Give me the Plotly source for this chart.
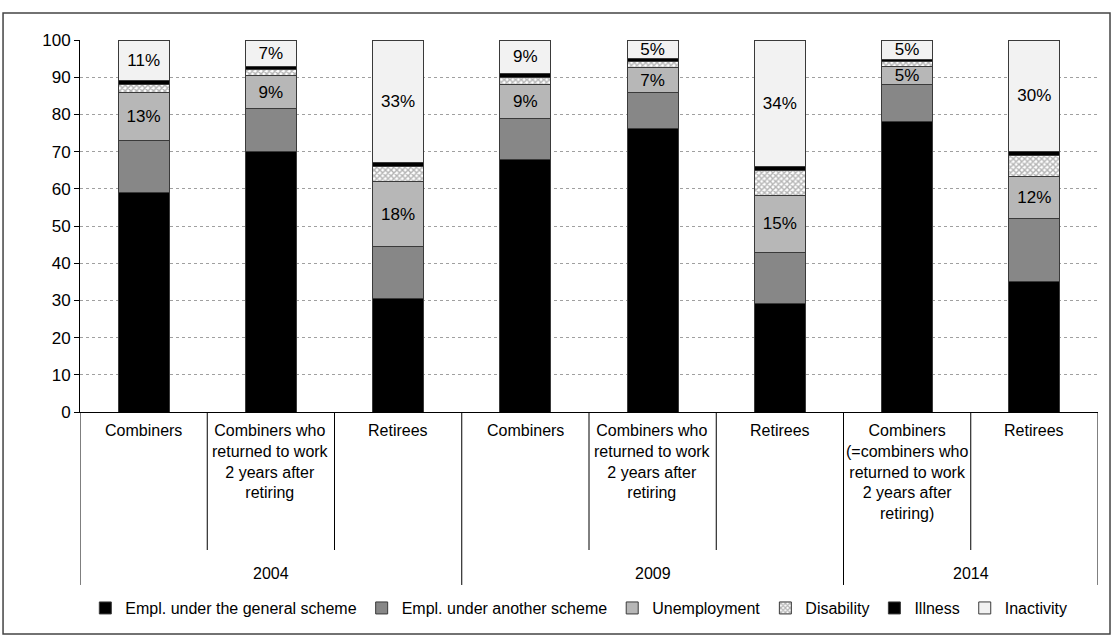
import plotly.graph_objects as go

CATEGORIES = [
    "Combiners",
    "Combiners who<br>returned to work<br>2 years after<br>retiring",
    "Retirees",
    "Combiners",
    "Combiners who<br>returned to work<br>2 years after<br>retiring",
    "Retirees",
    "Combiners<br>(=combiners who<br>returned to work<br>2 years after<br>retiring)",
    "Retirees",
]
YEARS = ["2004", "2009", "2014"]
YEAR_GROUPS = [[0, 1, 2], [3, 4, 5], [6, 7]]

SERIES = ["Empl. under the general scheme", "Empl. under another scheme",
          "Unemployment", "Disability", "Illness", "Inactivity"]

general = [59.1, 69.9, 30.6, 68.0, 76.3, 29.3, 78.2, 35.2]
another = [14.0, 11.6, 13.8, 11.0, 9.5, 13.7, 9.8, 16.7]
unemployment = [12.9, 9.0, 17.6, 9.0, 6.8, 15.3, 5.0, 11.5]
disability = [2.0, 1.5, 4.0, 2.0, 1.7, 6.5, 1.2, 5.6]
illness = [1.0, 1.0, 1.0, 1.0, 0.7, 1.2, 0.6, 1.0]
inactivity = [11.0, 7.0, 33.0, 9.0, 5.0, 34.0, 5.2, 30.0]

unemp_labels = ["13%", "9%", "18%", "9%", "7%", "15%", "5%", "12%"]
inact_labels = ["11%", "7%", "33%", "9%", "5%", "34%", "5%", "30%"]

FONT = "Liberation Sans Narrow, Arial Narrow, Liberation Sans, Arial, sans-serif"
x = list(range(len(CATEGORIES)))

fig = go.Figure()
styles = [
    dict(color="#000000"),
    dict(color="#878787"),
    dict(color="#b7b7b7"),
    dict(color="#ffffff", pattern=dict(shape="x", fgcolor="#6a6a6a", bgcolor="#ffffff", size=4, solidity=0.6)),
    dict(color="#000000"),
    dict(color="#f2f2f2"),
]
values = [general, another, unemployment, disability, illness, inactivity]
texts = [None, None, unemp_labels, None, None, inact_labels]
for name, vals, st, tx in zip(SERIES, values, styles, texts):
    marker = dict(st)
    marker["line"] = dict(color="#3a3a3a", width=1)
    fig.add_trace(go.Bar(
        x=x, y=vals, name=name, width=0.4, marker=marker,
        text=tx, textposition="inside" if tx else "none",
        insidetextanchor="middle", textangle=0,
        textfont=dict(size=17, color="#000000", family=FONT),
        hoverinfo="skip",
    ))

# category labels
for i, lab in enumerate(CATEGORIES):
    fig.add_annotation(x=i, xref="x", y=-0.022, yref="paper", yanchor="top",
                       text=lab, showarrow=False,
                       font=dict(size=16, color="#000000", family=FONT))
for yr, grp in zip(YEARS, YEAR_GROUPS):
    fig.add_annotation(x=sum(grp) / len(grp), xref="x", y=-0.433, yref="paper",
                       yanchor="middle", text=yr, showarrow=False,
                       font=dict(size=16, color="#000000", family=FONT))

# dividers
for b in [0.5, 1.5, 3.5, 4.5, 6.5]:
    fig.add_shape(type="line", xref="x", yref="paper", x0=b, x1=b, y0=0, y1=-0.371,
                  line=dict(color="#000000", width=1))
for b in [-0.5, 2.5, 5.5, 7.5]:
    fig.add_shape(type="line", xref="x", yref="paper", x0=b, x1=b, y0=0, y1=-0.465,
                  line=dict(color="#000000", width=1))

# outer chart border
fig.add_shape(type="rect", xref="paper", yref="paper",
              x0=-0.0756, x1=1.0118, y0=-0.597, y1=1.0726,
              line=dict(color="#444444", width=1.5))

fig.update_layout(
    width=1113, height=637,
    barmode="stack",
    plot_bgcolor="#ffffff", paper_bgcolor="#ffffff",
    margin=dict(l=80, r=15, t=40, b=225),
    font=dict(family=FONT, size=16, color="#000000"),
    showlegend=True,
    legend=dict(orientation="h", x=0.49, xanchor="center", y=-0.527, yanchor="middle",
                font=dict(size=16, family=FONT), itemwidth=30, tracegroupgap=0,
                traceorder="normal"),
    uniformtext=dict(minsize=17, mode="show"),
    bargap=0.6,
)
fig.update_xaxes(range=[-0.5, 7.5], showticklabels=False, showgrid=False,
                 showline=True, linecolor="#000000", linewidth=1, ticks="",
                 zeroline=False, fixedrange=True)
fig.update_yaxes(range=[0, 100], dtick=10, showgrid=True, gridcolor="#a0a0a0",
                 griddash="dot", gridwidth=1, showline=True, linecolor="#000000",
                 linewidth=1, ticks="outside", ticklen=5, tickcolor="#000000",
                 zeroline=False, tickfont=dict(size=17, family=FONT), fixedrange=True)

fig.write_html("out.html")
